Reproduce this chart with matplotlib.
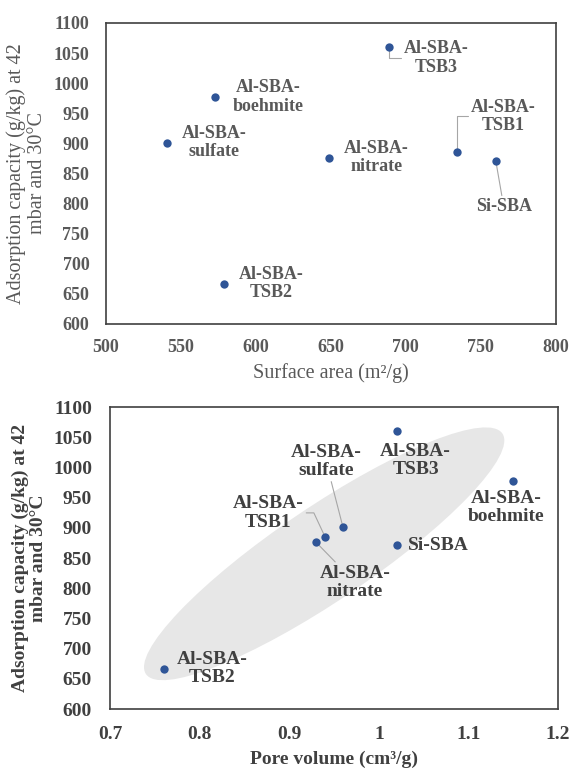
import matplotlib
matplotlib.use("Agg")
import matplotlib.pyplot as plt
import matplotlib.transforms as mtransforms
from matplotlib.patches import Ellipse

# values
samples = ['Al-SBA-\nTSB3', 'Al-SBA-\nboehmite', 'Al-SBA-\nsulfate', 'Al-SBA-\nnitrate',
           'Al-SBA-\nTSB1', 'Si-SBA', 'Al-SBA-\nTSB2']
capacity = [1060, 977, 901, 876, 885, 871, 667]
surface_area = [689, 573, 541, 649, 734, 760, 579]
pore_volume = [1.02, 1.15, 0.96, 0.93, 0.94, 1.02, 0.76]

top_ticks_x = [500, 550, 600, 650, 700, 750, 800]
bot_ticks_x = [0.7, 0.8, 0.9, 1.0, 1.1, 1.2]
bot_ticklabels_x = ['0.7', '0.8', '0.9', '1', '1.1', '1.2']
ticks_y = [600, 650, 700, 750, 800, 850, 900, 950, 1000, 1050, 1100]

# label offsets (pixels) and leader line styles
top_offsets = [(47, -11), (53, 0), (47, 0), (47, 0), (46, 36), (8, -46), (47, 0)]
top_leaders = ['elbow', None, None, None, 'elbow', 'line', None]
bot_offsets = [(19, -29), (-7, -26), (-17, 66), (39, -40), (-57, 24), (42, 0), (48, 0)]
bot_leaders = [None, None, 'line', 'line', 'tsb1', None, None]

DOT = '#2F5597'
LEAD = '#A6A6A6'
FONT = 'Liberation Serif'
plt.rcParams['font.family'] = [FONT, 'DejaVu Serif']

fig = plt.figure(figsize=(5.70, 7.69), dpi=100)
ax1 = fig.add_axes([0.186, 0.5787, 0.789, 0.3914])
ax2 = fig.add_axes([0.193, 0.078, 0.786, 0.3927])


def label_points(ax, xs, offsets, leaders, color, size):
    for name, x, y, off, lead in zip(samples, xs, capacity, offsets, leaders):
        kw = dict(textcoords='offset pixels', ha='center', va='center',
                  fontsize=size, fontweight='bold', color=color,
                  linespacing=1.1, zorder=4)
        if lead == 'elbow':
            kw['arrowprops'] = dict(arrowstyle='-', color=LEAD, lw=0.8, relpos=(0, 0.5),
                                    shrinkA=0, shrinkB=0,
                                    connectionstyle='angle,angleA=0,angleB=90,rad=0')
        elif lead == 'tsb1':
            kw['arrowprops'] = dict(arrowstyle='-', color=LEAD, lw=0.8, relpos=(1, 0.5),
                                    shrinkA=0, shrinkB=0,
                                    connectionstyle='angle,angleA=0,angleB=115,rad=0')
        elif lead == 'line':
            kw['arrowprops'] = dict(arrowstyle='-', color=LEAD, lw=0.8, shrinkA=0, shrinkB=0)
        ax.annotate(name, (x, y), xytext=off, **kw)


def style_axes(ax, color, size):
    for s in ax.spines.values():
        s.set_color('#404040')
        s.set_linewidth(1.2)
    ax.tick_params(length=0, labelsize=size, labelcolor=color)
    for t in ax.get_xticklabels() + ax.get_yticklabels():
        t.set_fontweight('bold')


# ---- top: surface area
ax1.scatter(surface_area, capacity, s=36, color=DOT, zorder=5, linewidths=0)
ax1.set_xlim(500, 800)
ax1.set_ylim(600, 1100)
ax1.set_xticks(top_ticks_x)
ax1.set_yticks(ticks_y)
style_axes(ax1, '#595959', 13)
ax1.tick_params(axis='x', pad=11)
ax1.tick_params(axis='y', pad=12)
ax1.set_xlabel('Surface area (m²/g)', fontsize=14.5, color='#595959', labelpad=5)
ax1.set_ylabel('Adsorption capacity (g/kg) at 42\nmbar and 30°C', fontsize=14.5,
               color='#595959', labelpad=5, linespacing=1.1)
label_points(ax1, surface_area, top_offsets, top_leaders, '#595959', 13)

# ---- bottom: pore volume
ax2.scatter(pore_volume, capacity, s=36, color=DOT, zorder=5, linewidths=0)
ax2.set_xlim(0.7, 1.2)
ax2.set_ylim(600, 1100)
ax2.set_xticks(bot_ticks_x)
ax2.set_xticklabels(bot_ticklabels_x)
ax2.set_yticks(ticks_y)
style_axes(ax2, '#404040', 14)
ax2.tick_params(axis='x', pad=12)
ax2.tick_params(axis='y', pad=13)
ax2.set_xlabel('Pore volume (cm³/g)', fontsize=14, fontweight='bold',
               color='#404040', labelpad=6)
ax2.set_ylabel('Adsorption capacity (g/kg) at 42\nmbar and 30°C', fontsize=14,
               fontweight='bold', color='#404040', labelpad=4, linespacing=1.12)

# highlight ellipse: centre in data units, size in inches
ell_tr = fig.dpi_scale_trans + mtransforms.ScaledTranslation(0.939, 857, ax2.transData)
ax2.add_patch(Ellipse((0, 0), 4.30, 0.94, angle=34, transform=ell_tr,
                      facecolor='#E7E7E7', edgecolor='none', zorder=1))
label_points(ax2, pore_volume, bot_offsets, bot_leaders, '#404040', 14)

fig.savefig('out.png', dpi=100)
